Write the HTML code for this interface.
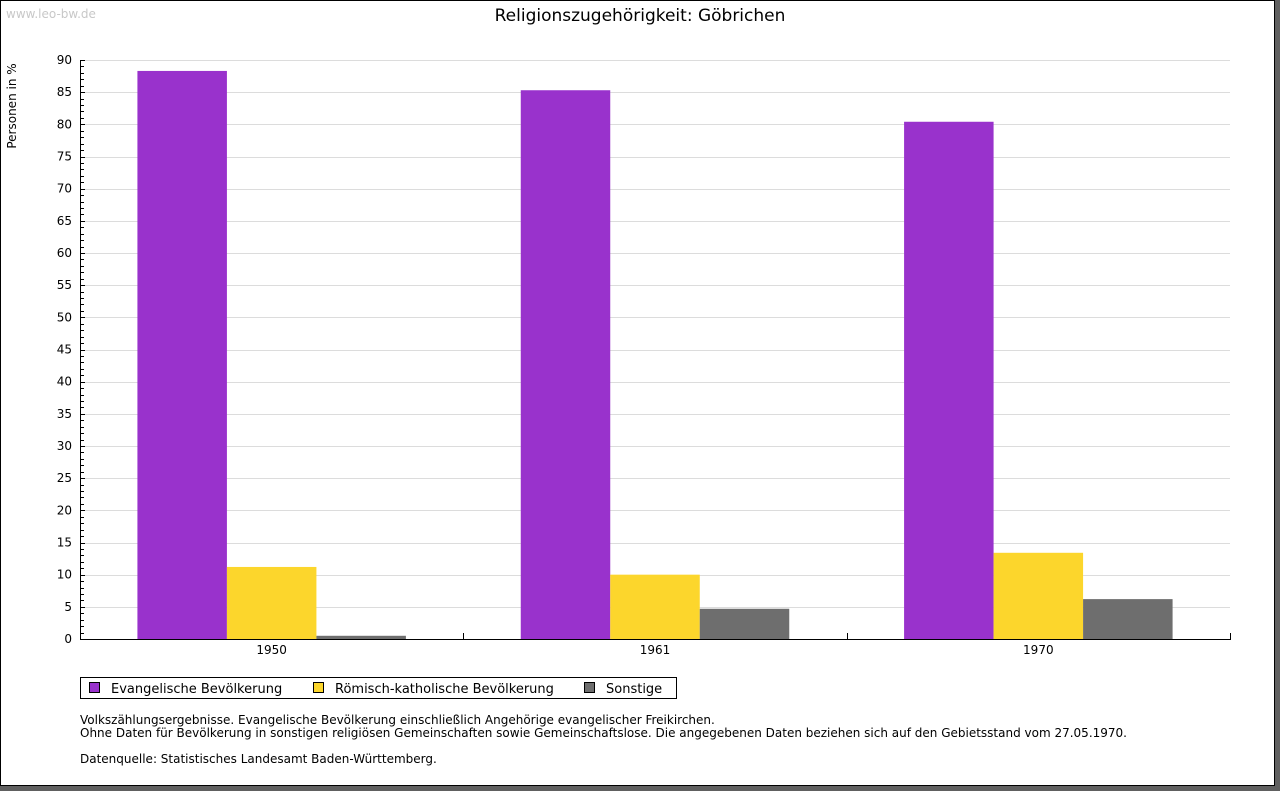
<!DOCTYPE html>
<html><head><meta charset="utf-8"><style>
body{margin:0;width:1280px;height:791px;background:#606060;position:relative;overflow:hidden;font-family:"DejaVu Sans","Liberation Sans",sans-serif}
#frame{position:absolute;left:0;top:0;width:1273px;height:784px;border:1px solid #000;background:#fff}
svg{position:absolute;left:0;top:0}
</style></head><body>
<div id="frame"></div>
<svg id="c" width="1280" height="791" font-family="DejaVu Sans, Liberation Sans, sans-serif"></svg>
<script>
const categories=["1950","1961","1970"];
const seriesNames=["Evangelische Bevölkerung","Römisch-katholische Bevölkerung","Sonstige"];
const evang=[88.3,85.3,80.4];
const kath=[11.2,10.0,13.4];
const sonst=[0.5,4.7,6.2];
const yTicks=[0,5,10,15,20,25,30,35,40,45,50,55,60,65,70,75,80,85,90];
const colors=["#9932cc","#fcd62c","#6e6e6e"];
const NS="http://www.w3.org/2000/svg";
const svg=document.getElementById('c');
const X0=80,X1=1230,Y0=639,Y1=60,YMAX=90;
const y=v=>Y0-(v/YMAX)*(Y0-Y1);
const gw=(X1-X0)/categories.length;
function el(t,a,p){const e=document.createElementNS(NS,t);for(const k in a)e.setAttribute(k,a[k]);(p||svg).appendChild(e);return e;}
let t=el('text',{x:6,y:18,'font-size':12,fill:'#c8c8c8'});t.textContent='www.leo-bw.de';

t=el('text',{x:640,y:21,'font-size':17,'text-anchor':'middle',fill:'#000'});t.textContent='Religionszugehörigkeit: Göbrichen';

t=el('text',{x:0,y:0,'font-size':12,'text-anchor':'middle',transform:'translate(16,106) rotate(-90)'});t.textContent='Personen in %';

for(let v=0;v<=YMAX;v++){
  const yy=Math.round(y(v))+0.5;
  if(v%5===0){
    if(v>0){const g=el('line',{x1:X0,x2:X1,y1:yy,y2:yy,stroke:'#dcdcdc'});}
  }
  el('line',{x1:X0,x2:X0+(v%5===0?5:4),y1:yy,y2:yy,stroke:'#000'});
}
yTicks.forEach(v=>{const tt=el('text',{x:72,y:y(v)+4,'font-size':12,'text-anchor':'end'});tt.textContent=v;
});
const data=[evang,kath,sonst];
categories.forEach((c,i)=>{
  const gx=X0+i*gw, bw=89.5, off=(gw-3*bw)/2;
  data.forEach((s,j)=>{
    const r=el('rect',{x:gx+off+j*bw,y:y(s[i]),width:bw,height:Y0-y(s[i]),fill:colors[j]});
    
  });
  const tt=el('text',{x:gx+gw/2,y:654,'font-size':12,'text-anchor':'middle'});tt.textContent=c;
  
  el('line',{x1:Math.round(gx+gw)+0.5,x2:Math.round(gx+gw)+0.5,y1:Y0,y2:Y0-6,stroke:'#000'});
});
const ax=el('line',{x1:X0+0.5,x2:X0+0.5,y1:Y1,y2:Y0+0.5,stroke:'#000'});
const bx=el('line',{x1:X0,x2:X1+1,y1:Y0+0.5,y2:Y0+0.5,stroke:'#000'});
const lg=el('rect',{x:80.5,y:677.5,width:596,height:21,fill:'#fff',stroke:'#000'});
const lx=[89,313,584];
seriesNames.forEach((n,j)=>{
  const r=el('rect',{x:lx[j]+0.5,y:682.5,width:10,height:10,fill:colors[j],stroke:'#000'});
  
  const tt=el('text',{x:lx[j]+22,y:693,'font-size':13});tt.textContent=n;
  
});
const notes=[["Volkszählungsergebnisse. Evangelische Bevölkerung einschließlich Angehörige evangelischer Freikirchen.",724],
["Ohne Daten für Bevölkerung in sonstigen religiösen Gemeinschaften sowie Gemeinschaftslose. Die angegebenen Daten beziehen sich auf den Gebietsstand vom 27.05.1970.",737],
["Datenquelle: Statistisches Landesamt Baden-Württemberg.",763]];
notes.forEach(([s,yy])=>{const tt=el('text',{x:80,y:yy,'font-size':12});tt.textContent=s;
});
</script>
</body></html>
